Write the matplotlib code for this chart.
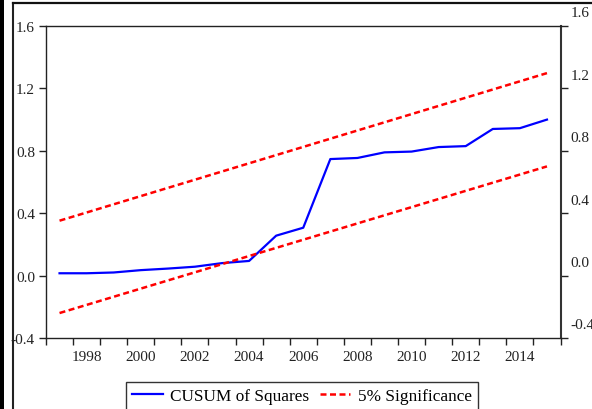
import matplotlib
matplotlib.use("Agg")
import matplotlib.pyplot as plt
import matplotlib.transforms as mtransforms
from matplotlib.patches import Rectangle
from matplotlib.lines import Line2D
import numpy as np

plt.rcParams['font.family'] = ['Liberation Serif', 'DejaVu Serif']

# Data
years = np.arange(1997, 2016)
cusum_sq = [0.015, 0.015, 0.02, 0.035, 0.045, 0.057, 0.08, 0.094, 0.256, 0.307,
            0.747, 0.754, 0.79, 0.795, 0.824, 0.83, 0.94, 0.945, 1.0]
band_years = [1997, 2015]
upper_band = [0.352, 1.298]
lower_band = [-0.24, 0.70]

y_ticks = [-0.4, 0.0, 0.4, 0.8, 1.2, 1.6]
y_ticklabels = ["-0.4", "0.0", "0.4", "0.8", "1.2", "1.6"]
x_labels = [1998, 2000, 2002, 2004, 2006, 2008, 2010, 2012, 2014]

W, H = 592, 410
fig = plt.figure(figsize=(W / 100, H / 100), dpi=100)
ax = fig.add_axes([46 / W, 1 - 339 / H, (560.5 - 46) / W, (339 - 27) / H])

ax.plot(years, cusum_sq, color='#0000ff', lw=1.6, label='CUSUM of Squares')
ax.plot(band_years, upper_band, color='#ff0000', lw=1.8, ls=(0, (2.4, 1.4)),
        label='5% Significance')
ax.plot(band_years, lower_band, color='#ff0000', lw=1.8, ls=(0, (2.4, 1.4)))

ax.set_xlim(1996.5, 2015.5)
ax.set_ylim(-0.4, 1.6)

# ticks at year boundaries, labels centred on even years
ax.set_xticks(np.arange(1996.5, 2016, 1.0))
ax.set_xticklabels([])
ax.set_xticks(x_labels, minor=True)
ax.set_xticklabels([str(y) for y in x_labels], minor=True)
ax.tick_params(axis='x', which='major', direction='out', length=5, width=1, color='#222222')
ax.tick_params(axis='x', which='minor', length=0, pad=9, labelsize=11, labelcolor='#222222')

ax.set_yticks(y_ticks)
ax.set_yticklabels(y_ticklabels)
ax.tick_params(axis='y', direction='out', length=5, width=1, color='#222222',
               right=True, labelright=False, pad=3, labelsize=11, labelcolor='#222222')

# right-hand labels sit a little above their ticks
offset = mtransforms.ScaledTranslation(10 / 100, 13 / 100, fig.dpi_scale_trans)
for v, s in zip(y_ticks, y_ticklabels):
    ax.text(1, v, s, transform=ax.get_yaxis_transform() + offset,
            ha='left', va='center', fontsize=11, color='#222222', clip_on=False)

for side in ['left', 'bottom', 'top']:
    ax.spines[side].set_color('#222222')
    ax.spines[side].set_linewidth(1.0)
ax.spines['right'].set_color('#333333')
ax.spines['right'].set_linewidth(1.5)

leg = fig.legend(loc='upper center', bbox_to_anchor=(302 / W, 1 - 383 / H), ncol=2,
                 fontsize=12.4, frameon=True, fancybox=False, edgecolor='black',
                 handlelength=1.75, columnspacing=0.6, handletextpad=0.45,
                 borderpad=0.35, borderaxespad=0)
leg.get_frame().set_linewidth(1.0)

# outer frame
fig.add_artist(Rectangle((0, 0), 4 / W, 1, transform=fig.transFigure,
                         color='black', lw=0))
fig.add_artist(Line2D([13 / W, 13 / W], [0, 1 - 4 / H], transform=fig.transFigure,
                      color='#222222', lw=1.5))
fig.add_artist(Line2D([13 / W, 1], [1 - 4 / H, 1 - 4 / H], transform=fig.transFigure,
                      color='#111111', lw=1.6))

fig.savefig("out.png", dpi=100)
